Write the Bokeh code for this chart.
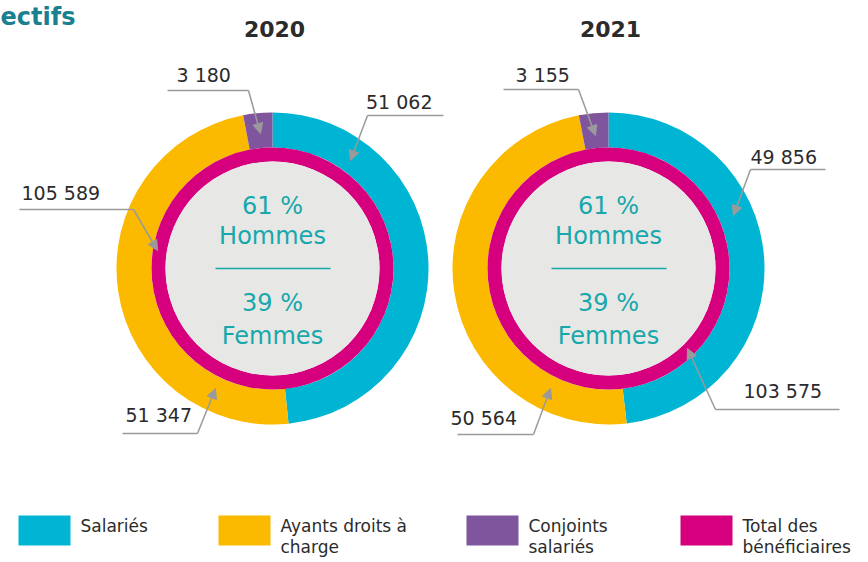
import numpy as np
from bokeh.plotting import figure
from bokeh.models import Range1d, ColumnDataSource, Arrow, NormalHead
from bokeh.core.properties import value
from bokeh.embed import file_html
from bokeh.resources import INLINE

# ---------------- data ----------------
years = ["2020", "2021"]
categories = ["Salariés", "Ayants droits à charge", "Conjoints salariés", "Total des bénéficiaires"]
legend_lines = [["Salariés"], ["Ayants droits à", "charge"], ["Conjoints", "salariés"], ["Total des", "bénéficiaires"]]
salaries = [51062, 49856]
ayants_droits = [51347, 50564]
conjoints = [3180, 3155]
total_beneficiaires = [105589, 103575]
hommes_pct = [61, 61]
femmes_pct = [39, 39]
title_text = "ectifs"

# ---------------- style / layout ----------------
colors = ["#00b5d3", "#fbba00", "#7f559d", "#d6007e"]
teal = "#17a8ac"
title_teal = "#1a7f8f"
gray_line = "#9a9a9a"
text_dark = "#2b2b2b"
FONT = "DejaVu Sans"

W, H = 868, 562
TEXT_DY = 8  # compensate the renderer's baseline offset


def fx(x):
    return x


def fy(y):
    return H - y


def ty(y):
    return H - (y - TEXT_DY)


centers = [(272, 268), (608, 268)]
R_OUT, R_MID, R_IN = 156, 121, 107

# per chart: category index -> (text_x, text_base_y, align, line_x0, elbow_x, line_y, tip_x, tip_y)
callouts = [
    {
        0: (432, 109, "right", 443, 367, 115, 350, 160),
        1: (125, 422, "left", 122, 197, 433, 215, 388),
        2: (176, 82, "left", 167, 248, 90, 260, 133),
        3: (21, 200, "left", 19, 133, 209, 157, 250),
    },
    {
        0: (750, 164, "left", 825, 750, 169, 733, 215),
        1: (450, 425, "left", 457, 533, 434, 550, 388),
        2: (515, 82, "left", 503, 578, 89, 595, 135),
        3: (743, 398, "left", 839, 715, 409, 687, 348),
    },
]

p = figure(width=W, height=H, x_range=Range1d(0, W), y_range=Range1d(0, H),
           output_backend="svg", toolbar_location=None, min_border=0)
p.axis.visible = False
p.grid.visible = False
p.outline_line_color = None
p.background_fill_color = "white"
p.border_fill_color = "white"


def fmt(v):
    return f"{v:,}".replace(",", " ")


for i, yr in enumerate(years):
    cx, cy = centers[i]
    parts = [salaries[i], ayants_droits[i], conjoints[i]]
    tot = float(sum(parts))
    cum = np.concatenate([[0.0], np.cumsum(parts) / tot])
    starts = np.pi / 2 - 2 * np.pi * cum[1:]
    ends = np.pi / 2 - 2 * np.pi * cum[:-1]
    src = ColumnDataSource(dict(x=[fx(cx)] * 3, y=[fy(cy)] * 3, start=starts, end=ends,
                                color=colors[:3]))
    p.annular_wedge(x="x", y="y", inner_radius=R_MID, outer_radius=R_OUT,
                    start_angle="start", end_angle="end", fill_color="color",
                    line_color=None, source=src)
    # total ring (full circle of the total)
    p.annular_wedge(x=[fx(cx)], y=[fy(cy)], inner_radius=R_IN, outer_radius=R_MID,
                    start_angle=[0], end_angle=[2 * np.pi * total_beneficiaires[i] / total_beneficiaires[i]],
                    fill_color=colors[3], line_color=None)
    p.scatter(x=[fx(cx)], y=[fy(cy)], size=2 * R_IN, marker="circle",
              fill_color="#e7e7e5", line_color=None)

    # year title
    p.text(x=[fx(cx + 2)], y=[ty(36)], text=[yr], text_font=value(FONT),
           text_font_style="bold", text_font_size="22px", text_color=text_dark,
           text_align="center", text_baseline="alphabetic")

    # centre texts
    p.text(x=[fx(cx)] * 4, y=[ty(cy - 55), ty(cy - 25), ty(cy + 42), ty(cy + 75)],
           text=[f"{hommes_pct[i]} %", "Hommes", f"{femmes_pct[i]} %", "Femmes"],
           text_font=value(FONT), text_font_size="24px", text_color=teal,
           text_align="center", text_baseline="alphabetic")
    p.segment(x0=[fx(cx - 57)], y0=[fy(cy)], x1=[fx(cx + 58)], y1=[fy(cy)],
              line_color=teal, line_width=1.5)

    # callouts
    vals = [salaries[i], ayants_droits[i], conjoints[i], total_beneficiaires[i]]
    for k, (tx, tb, al, lx0, ex, ly, tipx, tipy) in callouts[i].items():
        p.text(x=[fx(tx)], y=[ty(tb)], text=[fmt(vals[k])], text_font=value(FONT),
               text_font_size="19px", text_color=text_dark, text_align=al,
               text_baseline="alphabetic")
        p.segment(x0=[fx(lx0)], y0=[fy(ly)], x1=[fx(ex)], y1=[fy(ly)],
                  line_color=gray_line, line_width=1.5)
        p.add_layout(Arrow(end=NormalHead(size=10, fill_color=gray_line, line_color=gray_line),
                           x_start=fx(ex), y_start=fy(ly), x_end=fx(tipx), y_end=fy(tipy),
                           line_color=gray_line, line_width=1.5))

# title fragment
p.text(x=[fx(0)], y=[ty(24)], text=[title_text], text_font=value(FONT), text_font_style="bold",
       text_font_size="24px", text_color=title_teal, text_align="left", text_baseline="alphabetic")

# legend
leg_x = [18, 218, 466, 680]
for j, cat in enumerate(categories):
    x0 = leg_x[j]
    p.quad(left=[fx(x0)], right=[fx(x0 + 52)], top=[fy(515)], bottom=[fy(545)],
           fill_color=colors[j], line_color=None)
    lines = legend_lines[j]
    p.text(x=[fx(x0 + 62)] * len(lines), y=[ty(533 + 21 * n) for n in range(len(lines))],
           text=lines, text_font=value(FONT), text_font_size="17px", text_color=text_dark,
           text_align="left", text_baseline="alphabetic")

open("out.html", "w").write(file_html(p, INLINE))
